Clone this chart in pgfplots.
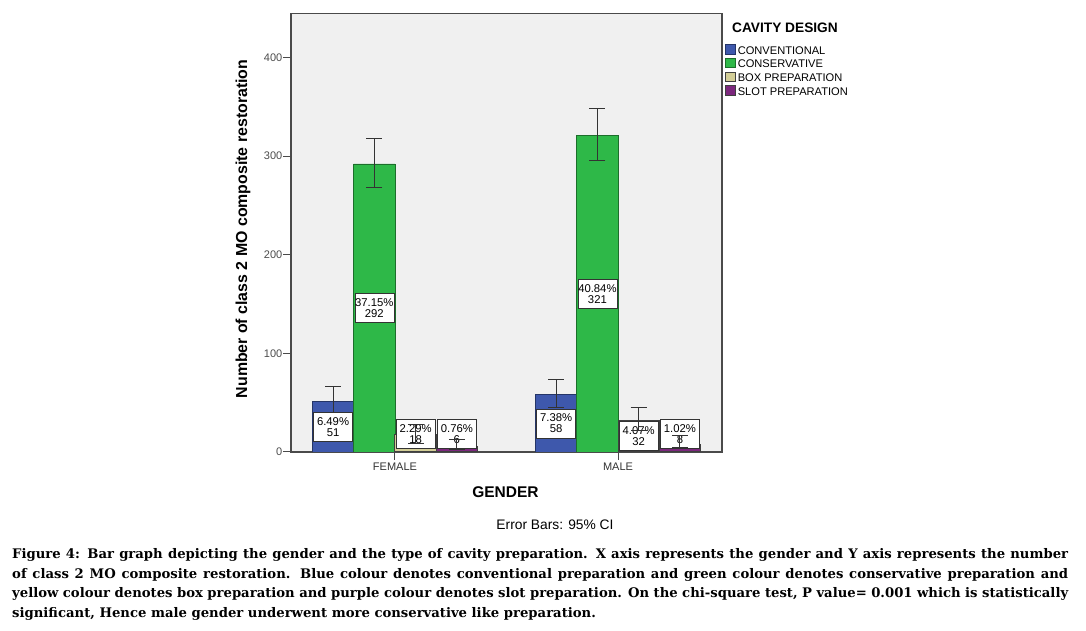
\documentclass[border=0pt]{standalone}
\usepackage{fontspec}
\setmainfont{Liberation Sans}
\newfontfamily\capfont{DejaVu Serif}
\usepackage{pgfplots}
\pgfplotsset{compat=1.18}
\definecolor{cblue}{HTML}{3E58AC}
\definecolor{cgreen}{HTML}{2EB848}
\definecolor{cbox}{HTML}{D3CE97}
\definecolor{cslot}{HTML}{7C287D}
\definecolor{bgray}{HTML}{F0F0F0}
\definecolor{frame}{HTML}{4A4A4A}
\begin{document}
\begin{tikzpicture}[
  lbl/.style={draw=black!80, fill=white, line width=0.6pt, font=\fontsize{11.3}{11}\selectfont,
    align=center, inner sep=0pt, minimum width=39pt, minimum height=29pt}]
\path[use as bounding box] (0pt,0pt) rectangle (1086pt,631pt);
\begin{axis}[
  at={(291pt,179pt)}, anchor=south west,
  scale only axis, width=431pt, height=438.5pt,
  xmin=-0.466, xmax=1.466, ymin=0, ymax=444.6,
  axis background/.style={fill=bgray},
  axis line style={draw=frame, line width=1.1pt},
  xtick={0,1}, xticklabels={FEMALE,MALE},
  ytick={0,100,200,300,400},
  tick align=outside, major tick length=8pt,
  tick style={draw=frame, line width=1pt},
  xtick pos=bottom, ytick pos=left,
  /pgf/number format/assume math mode=true,
  yticklabel style={font=\fontsize{11}{11}\selectfont, text=black!70, inner sep=0pt, xshift=-0.5pt},
  xticklabel style={font=\fontsize{11}{11}\selectfont, text=black!80, inner sep=0pt, yshift=-3pt},
  legend image code/.code={\draw[#1,/tikz/.cd,line width=0.6pt] (0pt,-3.75pt) rectangle (9.5pt,5.75pt);},
  legend style={at={(1.007,0.9305)}, anchor=north west, draw=none, fill=none, inner sep=0pt,
    font=\fontsize{11.1}{11.1}\selectfont, row sep=3.2pt,
    nodes={inner sep=0.5pt, text height=8pt, text depth=0pt},
    /tikz/every odd column/.append style={column sep=2pt}},
  legend cell align=left,
  ebar/.style={forget plot, draw=none, mark=none,
    error bars/y dir=both, error bars/y explicit,
    error bars/error mark=-,
    error bars/error bar style={draw=black!80, line width=1pt},
    error bars/error mark options={rotate=90, draw=black!80, line width=1pt, mark size=8pt}},
]
\addplot[ybar, bar width=0.185, bar shift=-0.2775, fill=cblue, draw=cblue!60!black, line width=0.6pt]
  coordinates {(0,51) (1,58)};
\addplot[ybar, bar width=0.185, bar shift=-0.0925, fill=cgreen, draw=cgreen!60!black, line width=0.6pt]
  coordinates {(0,292) (1,321)};
\addplot[ybar, bar width=0.185, bar shift=0.0925, fill=cbox, draw=black!75, line width=1pt]
  coordinates {(0,18) (1,32)};
\addplot[ybar, bar width=0.185, bar shift=0.2775, fill=cslot, draw=black!75, line width=1pt]
  coordinates {(0,6) (1,8)};
\legend{CONVENTIONAL,CONSERVATIVE,BOX PREPARATION,SLOT PREPARATION}
% labels
\node[lbl] at (axis cs:-0.2775,25.5) {6.49\%\\51};
\node[lbl] at (axis cs:-0.0925,146) {37.15\%\\292};
\node[lbl] at (axis cs:0.0925,18) {2.29\%\\18};
\node[lbl] at (axis cs:0.2775,18) {0.76\%\\6};
\node[lbl] at (axis cs:0.7225,29) {7.38\%\\58};
\node[lbl] at (axis cs:0.9075,160.5) {40.84\%\\321};
\node[lbl] at (axis cs:1.0925,16) {4.07\%\\32};
\node[lbl] at (axis cs:1.2775,18) {1.02\%\\8};
% error bars (95% CI)
\addplot[ebar] coordinates {(-0.2775,51) += (0,15) -= (0,11) (0.7225,58) += (0,16) -= (0,12.5)};
\addplot[ebar] coordinates {(-0.0925,292) += (0,26) -= (0,24) (0.9075,321) += (0,27) -= (0,25)};
\addplot[ebar] coordinates {(0.0925,18) += (0,10) -= (0,9) (1.0925,32) += (0,13) -= (0,10)};
\addplot[ebar] coordinates {(0.2775,6) += (0,7) -= (0,3) (1.2775,8) += (0,9) -= (0,3)};
\end{axis}
% texts
\node[font=\bfseries\fontsize{13.7}{13.7}\selectfont, anchor=west, inner sep=0pt] at (732pt,603pt) {CAVITY DESIGN};
\node[font=\bfseries\fontsize{15.9}{15.9}\selectfont, rotate=90, inner sep=0pt] at (243pt,402pt) {Number of class 2 MO composite restoration};
\node[font=\bfseries\fontsize{15.5}{15.5}\selectfont, inner sep=0pt] at (505.5pt,139pt) {GENDER};
\node[font=\fontsize{13.8}{13.8}\selectfont, inner sep=0pt] at (555pt,106pt) {Error Bars: 95\% CI};
\node[anchor=north west, inner sep=0pt, text width=1056pt, align=justify,
  font=\capfont\bfseries\fontsize{13.2}{19.8}\selectfont] at (12pt,83pt)
 {Figure 4: Bar graph depicting the gender and the type of cavity preparation. X axis represents the gender and Y axis represents the number\linebreak
 of class 2 MO composite restoration. Blue colour denotes conventional preparation and green colour denotes conservative preparation and\linebreak
 yellow colour denotes box preparation and purple colour denotes slot preparation. On the chi-square test, P value= 0.001 which is statistically\linebreak
 significant, Hence male gender underwent more conservative like preparation.};
\end{tikzpicture}
\end{document}
